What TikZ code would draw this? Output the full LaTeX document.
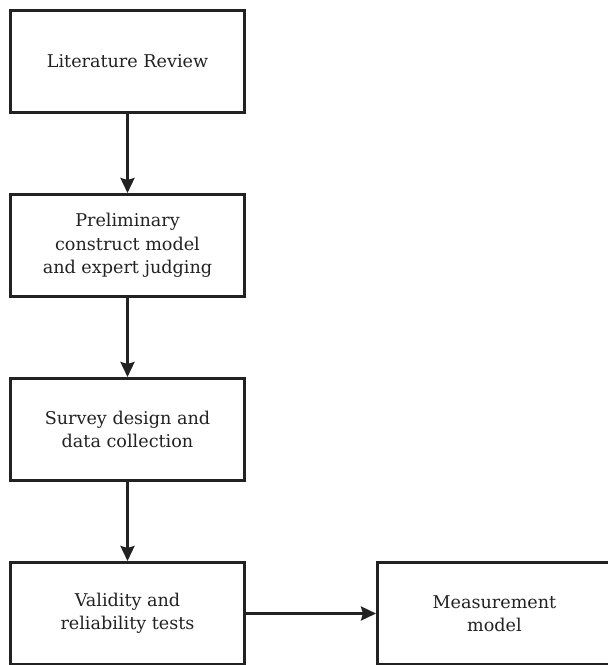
\documentclass[tikz,border=0pt]{standalone}
\usepackage{fontspec}
\setmainfont{DejaVu Serif}
\usetikzlibrary{arrows.meta}
\definecolor{ink}{HTML}{222222}
\begin{document}
\begin{tikzpicture}[x=1pt,y=-1pt,
  box/.style={draw=ink,line width=3pt,minimum width=234pt,minimum height=102pt,
    inner sep=0pt,align=center,text=ink,font=\fontsize{17.6}{23.5}\selectfont},
  arr/.style={draw=ink,line width=2.8pt,-{Stealth[length=15pt,width=14pt,inset=2pt]}}]
\useasboundingbox (0,0) rectangle (608,665);
\node[box] (a) at (127.5,61.5) {Literature Review};
\node[box] (b) at (127.5,245.5) {Preliminary\\construct model\\and expert judging};
\node[box] (c) at (127.5,429.5) {Survey design and\\data collection};
\node[box] (d) at (127.5,613.5) {Validity and\\reliability tests};
\node[box] (e) at (494.5,613.5) {Measurement\\model};
\draw[arr] (a) -- (b);
\draw[arr] (b) -- (c);
\draw[arr] (c) -- (d);
\draw[arr] (d) -- (e);
\end{tikzpicture}
\end{document}
